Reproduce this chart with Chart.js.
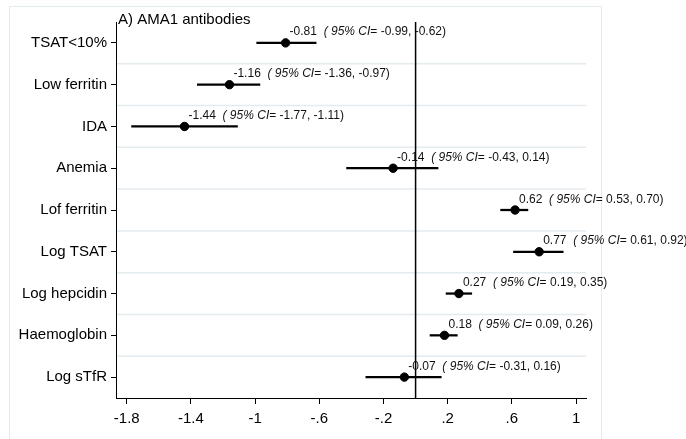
<!DOCTYPE html>
<html>
<head>
<meta charset="utf-8">
<script src="https://cdn.jsdelivr.net/npm/chart.js@4/dist/chart.umd.min.js"></script>
<style>
  html, body { margin: 0; padding: 0; background: #fff; }
</style>
</head>
<body>
<canvas id="forest" width="686" height="439"></canvas>
<script>
// ===== Data =====
const categories = ["TSAT<10%", "Low ferritin", "IDA", "Anemia", "Lof ferritin", "Log TSAT", "Log hepcidin", "Haemoglobin", "Log sTfR"];
const estimates = [-0.81, -1.16, -1.44, -0.14, 0.62, 0.77, 0.27, 0.18, -0.07];
const ciLower = [-0.99, -1.36, -1.77, -0.43, 0.53, 0.61, 0.19, 0.09, -0.31];
const ciUpper = [-0.62, -0.97, -1.11, 0.14, 0.70, 0.92, 0.35, 0.26, 0.16];
const xTicks = [-1.8, -1.4, -1, -0.6, -0.2, 0.2, 0.6, 1];
const xTickLabels = ["-1.8", "-1.4", "-1", "-.6", "-.2", ".2", ".6", "1"];
const xRange = [-1.867, 1.062];
const refValue = 0;
const titleText = "A) AMA1 antibodies";

const FONT = "'Liberation Sans', Arial, Helvetica, sans-serif";
const GRID = "#e3ebef";

// ===== Extra drawing: frame, title, gridlines, reference line, labels =====
const forestDecor = {
    id: "forestDecor",
    beforeDraw(chart) {
        const ctx = chart.ctx;
        ctx.save();
        ctx.fillStyle = "#fff";
        ctx.fillRect(0, 0, chart.width, chart.height);
        ctx.strokeStyle = GRID;
        ctx.lineWidth = 1;
        ctx.strokeRect(9.5, 6.5, 592, 450);
        ctx.restore();
    },
    beforeDatasetsDraw(chart) {
        const ctx = chart.ctx;
        const { left, right, top, bottom } = chart.chartArea;
        const y = chart.scales.y;
        const x = chart.scales.x;
        ctx.save();
        // gridlines between rows (kept clear of the axis line)
        ctx.strokeStyle = GRID;
        ctx.lineWidth = 1.5;
        for (let i = 0; i < categories.length - 1; i++) {
            const gy = (y.getPixelForValue(i) + y.getPixelForValue(i + 1)) / 2;
            ctx.beginPath();
            ctx.moveTo(left + 1, gy);
            ctx.lineTo(right, gy);
            ctx.stroke();
        }
        // reference line
        const rx = x.getPixelForValue(refValue);
        ctx.strokeStyle = "#000";
        ctx.lineWidth = 1.5;
        ctx.beginPath();
        ctx.moveTo(rx, top);
        ctx.lineTo(rx, bottom);
        ctx.stroke();
        ctx.restore();
    },
    afterDraw(chart) {
        const ctx = chart.ctx;
        const x = chart.scales.x;
        const y = chart.scales.y;
        ctx.save();
        // title
        ctx.fillStyle = "#000";
        ctx.font = "15px " + FONT;
        ctx.textBaseline = "alphabetic";
        ctx.textAlign = "left";
        ctx.fillText(titleText, chart.chartArea.left + 2, 24);

        // estimate labels
        ctx.fillStyle = "#111";
        const fmt = v => v.toFixed(2);
        estimates.forEach((est, i) => {
            let tx = x.getPixelForValue(est) + 4;
            const ty = y.getPixelForValue(i) - 7.5;
            const parts = [
                { t: fmt(est) + "  ", f: "12px " + FONT },
                { t: "( 95% CI", f: "italic 12px " + FONT },
                { t: "= " + fmt(ciLower[i]) + ", " + fmt(ciUpper[i]) + ")", f: "12px " + FONT }
            ];
            parts.forEach(p => {
                ctx.font = p.f;
                ctx.fillText(p.t, tx, ty);
                tx += ctx.measureText(p.t).width;
            });
        });
        ctx.restore();
    }
};

// ===== Chart =====
const ctx = document.getElementById("forest").getContext("2d");
const forestChart = new Chart(ctx, {
    type: "bar",
    data: {
        labels: categories,
        datasets: [
            {
                type: "bar",
                data: categories.map((c, i) => [ciLower[i], ciUpper[i]]),
                backgroundColor: "#000",
                borderWidth: 0,
                barThickness: 1.6,
                borderSkipped: false
            },
            {
                type: "line",
                data: estimates,
                showLine: false,
                pointRadius: 4.2,
                pointBorderWidth: 1,
                pointBackgroundColor: "#000",
                pointBorderColor: "#000"
            }
        ]
    },
    options: {
        indexAxis: "y",
        responsive: false,
        animation: false,
        layout: { padding: { top: 22, right: 100, left: 0, bottom: 0 } },
        plugins: {
            legend: { display: false },
            tooltip: { enabled: false }
        },
        scales: {
            x: {
                type: "linear",
                min: xRange[0],
                max: xRange[1],
                afterBuildTicks: scale => {
                    scale.ticks = xTicks.map(v => ({ value: v }));
                },
                afterFit: scale => { scale.height = 41; },
                grid: {
                    drawOnChartArea: false,
                    drawTicks: true,
                    tickLength: 6,
                    tickColor: "#000",
                    tickWidth: 1
                },
                border: { color: "#000", width: 1 },
                ticks: {
                    color: "#000",
                    font: { family: FONT, size: 15 },
                    padding: 6,
                    autoSkip: false,
                    maxRotation: 0,
                    callback: (value, index) => xTickLabels[index]
                }
            },
            y: {
                type: "category",
                offset: true,
                afterFit: scale => { scale.width = 116; },
                grid: {
                    offset: false,
                    drawOnChartArea: false,
                    drawTicks: true,
                    tickLength: 5,
                    tickColor: "#000",
                    tickWidth: 1
                },
                border: { color: "#000", width: 1 },
                ticks: {
                    color: "#000",
                    font: { family: FONT, size: 15 },
                    padding: 4,
                    autoSkip: false
                }
            }
        }
    },
    plugins: [forestDecor]
});
</script>
</body>
</html>
